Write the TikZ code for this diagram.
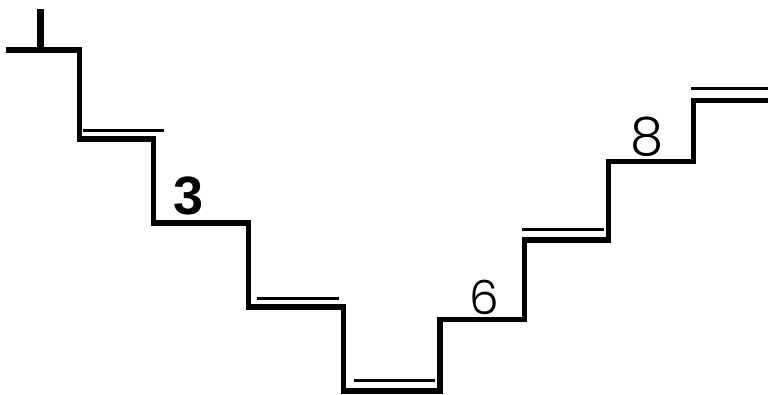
\documentclass[tikz,border=0pt]{standalone}
\usepackage{fontspec}
\newfontfamily\boldsans{Liberation Sans}
\newfontfamily\geosans{Poppins Light}
\begin{document}
\begin{tikzpicture}[x=1pt,y=-1pt,
  stair/.style={line width=5.5pt,line join=miter},
  nosing/.style={line width=3pt},
  tick/.style={line width=7pt},
  boldnum/.style={inner sep=0pt,font=\boldsans\bfseries\fontsize{54}{54}\selectfont},
  thinnum/.style={inner sep=0pt,font=\geosans\fontsize{#1}{#1}\selectfont}]
\useasboundingbox (0,0) rectangle (768,394);
\fill[white] (0,0) rectangle (768,394);
% staircase
\draw[stair] (6,50) -- (79.5,50) -- (79.5,139) -- (153.3,139) -- (153.3,223)
  -- (248.5,223) -- (248.5,307) -- (343.5,307) -- (343.5,391) -- (440,391)
  -- (440,319.5) -- (524.5,319.5) -- (524.5,240) -- (608.5,240) -- (608.5,161.5)
  -- (693.5,161.5) -- (693.5,100.5) -- (768,100.5);
% start tick
\draw[tick] (40,9) -- (40,50);
% thin nosing lines
\draw[nosing] (83,130) -- (164,130);
\draw[nosing] (257,298) -- (339,298);
\draw[nosing] (354,380) -- (435,380);
\draw[nosing] (522,229) -- (604,229);
\draw[nosing] (691,88) -- (768,88);
% labels
\node[boldnum] (n3) at (188.5,196) {3};
\node[thinnum=47] (n6) at (484,297) {6};
\node[thinnum=53] (n8) at (647,136.5) {8};
\end{tikzpicture}
\end{document}
